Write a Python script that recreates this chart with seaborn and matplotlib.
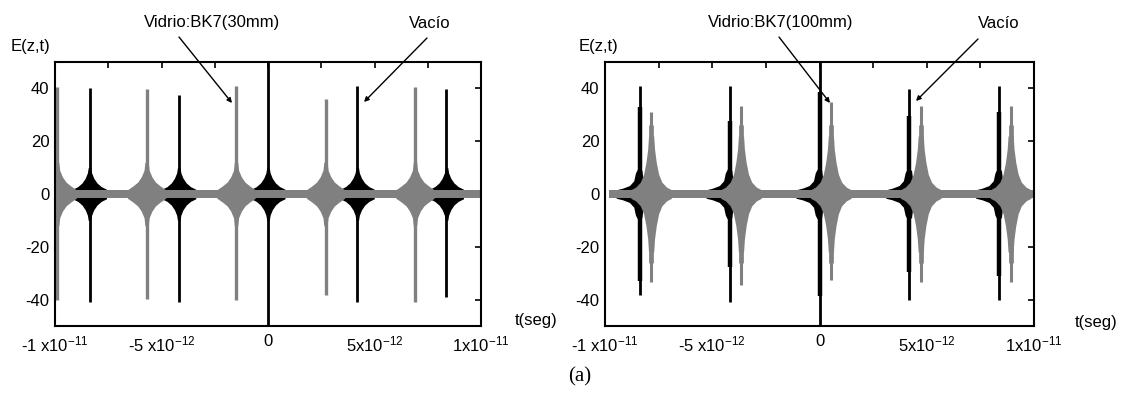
import numpy as np
import pandas as pd
import matplotlib
matplotlib.use("Agg")
import matplotlib.pyplot as plt
from matplotlib.patches import FancyArrowPatch
import seaborn as sns

# ---------------- data ----------------
PS = 1e-12
# left panel: vacuum (black) and BK7 30 mm (gray) pulse centres / peak values
left_vac_t = [-8.38, -4.19, 0.0, 4.19, 8.38]
left_vac_top = [40.3, 37.4, 60.0, 41.0, 39.7]
left_vac_bot = [-40.9, -41.0, -60.0, -41.0, -39.0]
left_gls_t = [-9.90, -5.70, -1.50, 2.70, 6.90]
left_gls_top = [40.6, 39.7, 41.0, 35.9, 40.4]
left_gls_bot = [-40.0, -39.6, -40.3, -38.1, -41.0]

# right panel: vacuum (black) and BK7 100 mm (gray)
right_vac_t = [-8.38, -4.19, 0.0, 4.19, 8.38]
right_vac_top = [41.0, 41.0, 60.0, 39.7, 41.0]
right_vac_bot = [-38.1, -41.0, -60.0, -40.3, -40.3]
right_vac_shoulder = [33.0, 27.7, 38.7, 29.7, 31.0]
right_gls_t = [-7.85, -3.66, 0.53, 4.72, 8.91]
right_gls_top = [31.0, 33.5, 34.8, 33.5, 33.5]
right_gls_bot = [-33.4, -34.3, -32.4, -33.4, -33.4]

# envelope profiles around each pulse centre (offset in ps, half amplitude)
vacL_off = [-0.8, -0.55, -0.35, -0.2, -0.1, -0.06, 0.06, 0.1, 0.2, 0.35, 0.55, 0.8]
vacL_amp = [1.8, 2.8, 4.2, 6.0, 8.0, 10.0, 10.0, 8.0, 6.0, 4.2, 2.8, 1.8]
glsL_off = [-0.9, -0.65, -0.42, -0.25, -0.12, -0.08, 0.08, 0.12, 0.25, 0.42, 0.65, 0.9]
glsL_amp = [1.6, 3.0, 4.5, 6.5, 9.0, 12.0, 12.0, 9.0, 6.5, 4.5, 3.0, 1.6]
vacR_off = [-1.1, -0.8, -0.48, -0.28, -0.2, -0.11, 0.10, 0.16, 0.28, 0.45]
vacR_amp = [1.6, 2.2, 3.2, 5.0, 8.0, 9.4, 9.0, 5.0, 3.0, 1.8]
glsR_off = [-0.95, -0.72, -0.5, -0.35, -0.24, -0.16, -0.12, 0.12, 0.16, 0.24, 0.35, 0.5, 0.72, 0.95]
glsR_amp = [1.6, 2.6, 4.5, 7.5, 12.0, 17.0, 22.0, 22.0, 17.0, 12.0, 7.5, 4.5, 2.6, 1.6]
glsR_shoulder = 26.0
band_half = 1.6

x_ticks = [-10, -7.5, -5, -2.5, 0, 2.5, 5, 7.5, 10]
x_ticklabels = [r'-1 x10$^{-11}$', '', r'-5 x10$^{-12}$', '', '0', '',
                r'5x10$^{-12}$', '', r'1x10$^{-11}$']
y_ticks = [-40, -20, 0, 20, 40]

BLACK = '#000000'
GRAY = '#808080'

# ---------------- style ----------------
sns.set_theme(style="white")
plt.rcParams['font.family'] = ['Liberation Sans', 'DejaVu Sans']
plt.rcParams['mathtext.fontset'] = 'custom'
plt.rcParams['mathtext.rm'] = 'Liberation Sans'
plt.rcParams['mathtext.it'] = 'Liberation Sans'
plt.rcParams['mathtext.bf'] = 'Liberation Sans'

W, H = 1130, 396
fig = plt.figure(figsize=(W / 100, H / 100), dpi=100)
fig.patch.set_facecolor('white')


def px_axes(x0, y0, x1, y1):
    return fig.add_axes([x0 / W, 1 - y1 / H, (x1 - x0) / W, (y1 - y0) / H])


ax1 = px_axes(55, 62, 481, 326)
ax2 = px_axes(605, 62, 1034, 326)


def spikes(ax, centers, tops, bots, color, lw):
    rows = []
    for i, (c, t, b) in enumerate(zip(centers, tops, bots)):
        rows.append(dict(t=c * PS, E=b, pulse=i))
        rows.append(dict(t=c * PS, E=t, pulse=i))
    df = pd.DataFrame(rows)
    sns.lineplot(data=df, x='t', y='E', units='pulse', estimator=None,
                 sort=False, color=color, lw=lw, ax=ax, legend=False,
                 solid_capstyle='butt')


def envelopes(ax, centers, off, amp, color):
    for c in centers:
        x = (np.asarray(off) + c) * PS
        a = np.asarray(amp)
        ax.fill_between(x, -a, a, color=color, lw=0, zorder=2)


# left panel
envelopes(ax1, left_vac_t, vacL_off, vacL_amp, BLACK)
spikes(ax1, left_vac_t, left_vac_top, left_vac_bot, BLACK, 2.0)
ax1.fill_between([-10 * PS, 10 * PS], -band_half, band_half, color=GRAY, lw=0, zorder=2.5)
envelopes(ax1, left_gls_t, glsL_off, glsL_amp, GRAY)
spikes(ax1, left_gls_t, left_gls_top, left_gls_bot, GRAY, 2.4)

# right panel
envelopes(ax2, right_vac_t, vacR_off, vacR_amp, BLACK)
spikes(ax2, right_vac_t, right_vac_shoulder, [-s for s in right_vac_shoulder], BLACK, 3.2)
spikes(ax2, right_vac_t, right_vac_top, right_vac_bot, BLACK, 2.0)
ax2.fill_between([-9.8 * PS, 10 * PS], -band_half, band_half, color=GRAY, lw=0, zorder=2.5)
envelopes(ax2, right_gls_t, glsR_off, glsR_amp, GRAY)
spikes(ax2, right_gls_t, [glsR_shoulder] * 5, [-glsR_shoulder] * 5, GRAY, 3.4)
spikes(ax2, right_gls_t, right_gls_top, right_gls_bot, GRAY, 2.2)

for ax in (ax1, ax2):
    ax.set_xlim(-10 * PS, 10 * PS)
    ax.set_ylim(-50, 50)
    ax.set_xlabel('')
    ax.set_ylabel('')
    ax.set_xticks([v * PS for v in x_ticks])
    ax.set_xticklabels(x_ticklabels)
    ax.set_yticks(y_ticks)
    ax.set_yticklabels([str(v) for v in y_ticks])
    ax.tick_params(direction='in', length=4, width=1.2, top=True, right=True,
                   labelsize=12, colors='black', pad=4)
    ax.tick_params(axis='x', pad=6)
    for s in ax.spines.values():
        s.set_color('black')
        s.set_linewidth(1.5)
        s.set_zorder(5)
    ax.set_facecolor('white')


# texts
def ftext(x, y, s, **kw):
    fig.text(x / W, 1 - y / H, s, ha='center', va='center', color='black', **kw)


ftext(31, 46, 'E(z,t)', fontsize=12)
ftext(599, 46, 'E(z,t)', fontsize=12)
ftext(536, 320, 't(seg)', fontsize=12)
ftext(1096, 323, 't(seg)', fontsize=12)
ftext(212, 22, 'Vidrio:BK7(30mm)', fontsize=12)
ftext(430, 23, 'Vacío', fontsize=12)
ftext(781, 22, 'Vidrio:BK7(100mm)', fontsize=12)
ftext(999, 23, 'Vacío', fontsize=12)
ftext(580, 377, '(a)', fontsize=15, family=['Liberation Serif', 'DejaVu Serif'])


def farrow(x0, y0, x1, y1):
    arr = FancyArrowPatch((x0 / W, 1 - y0 / H), (x1 / W, 1 - y1 / H),
                          transform=fig.transFigure, arrowstyle='-|>',
                          mutation_scale=7, color='black', lw=1.0,
                          shrinkA=0, shrinkB=0, zorder=10)
    fig.add_artist(arr)


farrow(179, 37, 232, 103)
farrow(427, 38, 364, 102)
farrow(779, 37, 830, 103)
farrow(978, 39, 916, 101)

fig.savefig('out.png', dpi=100, facecolor='white')
